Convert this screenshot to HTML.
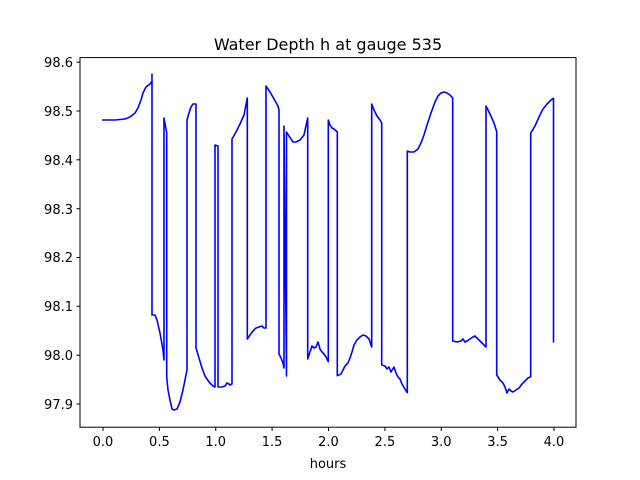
<!DOCTYPE html>
<html><head><style>body{margin:0;background:#fff}svg{display:block}text{font-family:"DejaVu Sans","Liberation Sans",sans-serif;fill:#000}</style></head><body>
<svg width="640" height="480" viewBox="0 0 640 480">
<rect width="640" height="480" fill="#fff"/>
<polyline fill="none" stroke="#0000ff" stroke-width="1.6" stroke-linejoin="round" points="102,120 115,120 125,119 130,117 135,113 138,108 141,100 143,93 146,87 150,84 152,81 152,74 152,315 155,315 157,320 160,333 163,350 164,360 164,118 166.7,133 166.7,377 168,390 170,400 172,409 174,410 177,409 180,402 183,390 187,370 187,363 187,120 189,113 191,107 193,104 196,104 196,348 199,358 202,368 205,376 209,382 213,386 215,387 215,145 218,146 218,387 222,387 225,386 227,383 229,384 230,385 232,384 232,139 236,132 240,124 244,115 247.3,98 247.3,339 250,335 253,331 256,328 259,327 262,326 264,328 266,328 266,86 270,92 274,99 278,106 279,110 279,354 281,358 283,363 284,368 284,126 286.5,376 286.5,132 289,136 293,142 296,142 300,140 304,135 307.7,118 307.7,359 310,352 312,346 314,348 316,347 318,342 320,349 322,352 324,354 326,357 328.3,361.7 328.3,120 330,125 332,128 334,129 337.3,132 337.3,375.7 341,374 343,370 345,366 348,363 350,358 352,352 354,345 357,340 360,337 363,335 366,336 369,339 371.7,347 371.7,104 374,110 377,116 380,120 381.7,123 381.7,365 385,366 387,369 389,367 391,372 394,367 396,373 398,377 400,379 402,384 405,389 407.3,392.7 407.3,151 410,152 414,152 418,149 421,143 424,135 427,125 431,113 435,102 438,96 441,93 444,92 447,93 450,95 452.7,98 452.7,341 457,342 461,341 463,339 465,342 467,341 470,339 473,337 475,336 478,339 481,342 486,347 486,106 490,114 494,123 496.7,131.7 496.7,375 500,380 503,383 505,387 507,393 509,389 511,391 513,392 516,390 519,388 522,384 525,381 528,378 530.7,376.7 530.7,133 535,126 539,117 543,109 547,104 551,100 553.5,98.3 553.5,342 553.5,98.3"/>
<rect x="80" y="57.6" width="496" height="369.6" fill="none" stroke="#000" stroke-width="1"/>
<g stroke="#000" stroke-width="1">
<line x1="103" y1="427.2" x2="103" y2="431"/><line x1="215.75" y1="427.2" x2="215.75" y2="431"/><line x1="328.5" y1="427.2" x2="328.5" y2="431"/><line x1="441.25" y1="427.2" x2="441.25" y2="431"/><line x1="554" y1="427.2" x2="554" y2="431"/>
<line x1="76.5" y1="404" x2="80" y2="404"/><line x1="76.5" y1="355.2" x2="80" y2="355.2"/><line x1="76.5" y1="306.3" x2="80" y2="306.3"/><line x1="76.5" y1="257.5" x2="80" y2="257.5"/><line x1="76.5" y1="208.7" x2="80" y2="208.7"/><line x1="76.5" y1="159.8" x2="80" y2="159.8"/><line x1="76.5" y1="111" x2="80" y2="111"/><line x1="76.5" y1="62.2" x2="80" y2="62.2"/>
</g>
<g font-size="13" text-anchor="middle">
<text x="103" y="446">0.0</text><text x="159.4" y="446">0.5</text><text x="215.75" y="446">1.0</text><text x="272.1" y="446">1.5</text><text x="328.5" y="446">2.0</text><text x="384.9" y="446">2.5</text><text x="441.25" y="446">3.0</text><text x="497.6" y="446">3.5</text><text x="554" y="446">4.0</text>
<text x="328" y="468">hours</text>
</g>
<g stroke="#000" stroke-width="1">
<line x1="159.4" y1="427.2" x2="159.4" y2="431"/><line x1="272.1" y1="427.2" x2="272.1" y2="431"/><line x1="384.9" y1="427.2" x2="384.9" y2="431"/><line x1="497.6" y1="427.2" x2="497.6" y2="431"/>
</g>
<g font-size="13" text-anchor="end">
<text x="73" y="409">97.9</text><text x="73" y="360">98.0</text><text x="73" y="311">98.1</text><text x="73" y="262">98.2</text><text x="73" y="214">98.3</text><text x="73" y="165">98.4</text><text x="73" y="116">98.5</text><text x="73" y="67">98.6</text>
</g>
<text x="328" y="50" font-size="16" text-anchor="middle">Water Depth h at gauge 535</text>
</svg>
</body></html>
